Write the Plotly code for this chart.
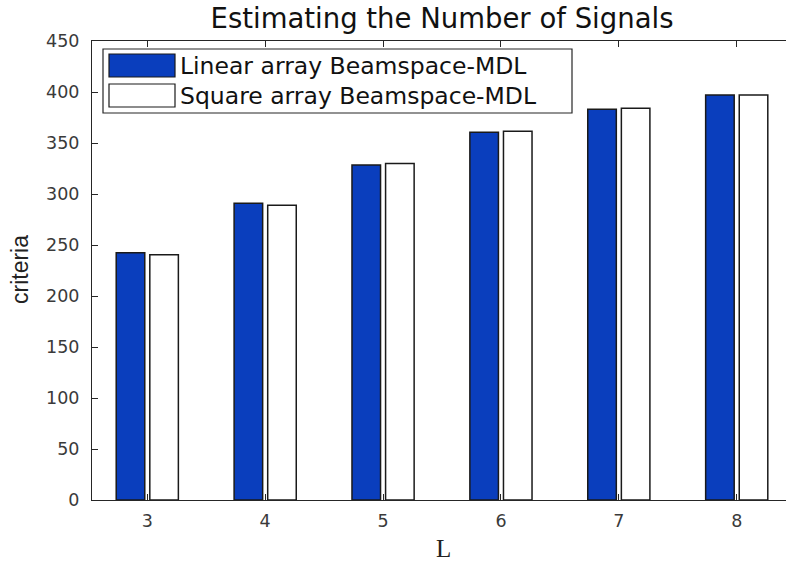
import plotly.graph_objects as go

# Number of beams L and the estimated criteria for each array geometry
L_values = [3, 4, 5, 6, 7, 8]
linear_mdl = [242.5, 291, 328.5, 360.5, 383, 397]
square_mdl = [240.5, 289, 330, 361.5, 384, 397]

series_names = ["Linear array Beamspace-MDL", "Square array Beamspace-MDL"]
y_ticks = [0, 50, 100, 150, 200, 250, 300, 350, 400, 450]

W, H = 786, 561
PL, PR, PT, PB = 92, 786, 41, 500  # plot area in pixels

BLUE = "#0a3ebd"
AXIS = "#262626"
WIDE = "DejaVu Sans, Verdana, sans-serif"
TICKFONT = dict(family=WIDE, size=17.5, color="#3a3a3a")


def px_x(p):
    return (p - PL) / (PR - PL)


def px_y(p):
    return (PB - p) / (PB - PT)


fig = go.Figure()
fig.add_trace(go.Bar(x=L_values, y=linear_mdl, name=series_names[0],
                     marker=dict(color=BLUE, line=dict(color="#1a1a1a", width=1.5))))
fig.add_trace(go.Bar(x=L_values, y=square_mdl, name=series_names[1],
                     marker=dict(color="white", line=dict(color="#1a1a1a", width=1.5))))

# Legend drawn as a boxed key with large swatches
shapes = [
    dict(type="rect", xref="paper", yref="paper",
         x0=px_x(103), x1=px_x(572), y0=px_y(113), y1=px_y(49),
         line=dict(color=AXIS, width=1.2), fillcolor="white", layer="above"),
]
annotations = []
swatch_rows = [(54, 77, BLUE), (84, 107, "white")]
for (top, bottom, color), name in zip(swatch_rows, series_names):
    shapes.append(dict(type="rect", xref="paper", yref="paper",
                       x0=px_x(109), x1=px_x(175), y0=px_y(bottom), y1=px_y(top),
                       line=dict(color="#1a1a1a", width=1.2), fillcolor=color, layer="above"))
    annotations.append(dict(text=name, xref="paper", yref="paper",
                            x=px_x(178), y=px_y((top + bottom) / 2),
                            xanchor="left", yanchor="middle", showarrow=False,
                            font=dict(family=WIDE, size=23.5, color="#111")))

# Axis titles
annotations.append(dict(text="criteria", xref="paper", yref="paper",
                        x=px_x(20), y=px_y(270), textangle=-90,
                        xanchor="center", yanchor="middle", showarrow=False,
                        font=dict(family="Liberation Sans, Arial, sans-serif", size=23, color="#222")))
annotations.append(dict(text="L", xref="paper", yref="paper",
                        x=px_x(443), y=px_y(548),
                        xanchor="center", yanchor="middle", showarrow=False,
                        font=dict(family="Liberation Serif, Times New Roman, serif", size=25, color="#222")))

fig.update_layout(
    width=W, height=H,
    margin=dict(l=PL, r=W - PR, t=PT, b=H - PB),
    paper_bgcolor="white", plot_bgcolor="white",
    barmode="group", bargap=0.43, bargroupgap=0.15,
    showlegend=False,
    title=dict(text="Estimating the Number of Signals", x=442 / W, xanchor="center",
               y=1 - 18 / H, yanchor="middle",
               font=dict(family=WIDE, size=27.5, color="#111")),
    shapes=shapes, annotations=annotations,
)

fig.update_xaxes(range=[2.531, 8.418], tickvals=L_values, ticktext=[str(v) for v in L_values],
                 showgrid=False, zeroline=False, showline=True, linecolor=AXIS, linewidth=1,
                 mirror="ticks", ticks="inside", ticklen=6, tickcolor=AXIS,
                 tickfont=TICKFONT, ticklabelstandoff=5)
fig.update_yaxes(range=[0, 450], tickvals=y_ticks,
                 showgrid=False, zeroline=False, showline=True, linecolor=AXIS, linewidth=1,
                 ticks="inside", ticklen=6, tickcolor=AXIS,
                 tickfont=TICKFONT, ticklabelstandoff=8)

fig.write_html("out.html")
